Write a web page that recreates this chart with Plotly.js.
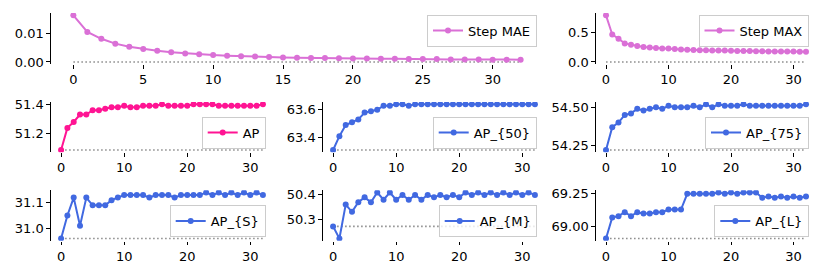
<!DOCTYPE html>
<html><head><meta charset="utf-8">
<script src="https://cdn.plot.ly/plotly-3.0.1.min.js"></script>
<style>html,body{margin:0;padding:0;background:#fff}#chart{width:830px;height:277px}</style>
</head><body><div id="chart"></div>
<script>
const steps = [0,1,2,3,4,5,6,7,8,9,10,11,12,13,14,15,16,17,18,19,20,21,22,23,24,25,26,27,28,29,30,31,32];
const stepMAE = [0.0163,0.0105,0.0081,0.0064,0.0053,0.0045,0.0039,0.0034,0.0030,0.0027,0.0024,0.0022,0.0020,0.0019,0.0017,0.0016,0.0015,0.0014,0.0014,0.0013,0.0012,0.0012,0.0011,0.0011,0.0010,0.0010,0.0010,0.0009,0.0009,0.0009,0.0008,0.0008,0.0008];
const stepMAX = [0.78,0.46,0.39,0.31,0.29,0.265,0.25,0.24,0.232,0.227,0.225,0.218,0.21,0.205,0.2,0.197,0.195,0.193,0.193,0.19,0.187,0.185,0.183,0.182,0.18,0.178,0.177,0.176,0.175,0.174,0.173,0.172,0.172];
const ap = [51.09,51.24,51.28,51.33,51.33,51.36,51.36,51.37,51.38,51.38,51.39,51.38,51.38,51.39,51.39,51.39,51.40,51.39,51.39,51.39,51.39,51.40,51.40,51.40,51.40,51.39,51.39,51.39,51.39,51.39,51.39,51.39,51.40];
const ap50 = [63.31,63.41,63.49,63.51,63.53,63.58,63.59,63.60,63.63,63.63,63.64,63.64,63.63,63.64,63.64,63.64,63.64,63.64,63.64,63.64,63.64,63.64,63.64,63.64,63.64,63.64,63.64,63.64,63.64,63.64,63.64,63.64,63.64];
const ap75 = [54.22,54.37,54.40,54.45,54.46,54.49,54.48,54.49,54.50,54.49,54.51,54.50,54.50,54.50,54.51,54.50,54.52,54.50,54.52,54.51,54.51,54.51,54.52,54.51,54.51,54.51,54.51,54.51,54.51,54.51,54.51,54.51,54.52];
const apS = [30.96,31.05,31.12,31.01,31.12,31.09,31.09,31.09,31.11,31.12,31.13,31.13,31.13,31.13,31.12,31.13,31.13,31.13,31.12,31.13,31.13,31.13,31.13,31.14,31.13,31.14,31.13,31.14,31.13,31.14,31.13,31.14,31.13];
const apM = [50.27,50.22,50.36,50.33,50.37,50.39,50.37,50.41,50.38,50.41,50.38,50.40,50.38,50.40,50.38,50.40,50.39,50.40,50.39,50.40,50.39,50.41,50.40,50.41,50.40,50.41,50.40,50.41,50.40,50.41,50.40,50.41,50.40];
const apL = [68.91,69.07,69.08,69.11,69.08,69.11,69.10,69.10,69.11,69.11,69.13,69.13,69.13,69.25,69.25,69.25,69.25,69.25,69.26,69.25,69.26,69.25,69.26,69.26,69.26,69.22,69.23,69.22,69.23,69.22,69.23,69.22,69.23];
const labels = ['Step MAE','Step MAX','AP','AP_{50}','AP_{75}','AP_{S}','AP_{M}','AP_{L}'];
const baselines = [0, 0, ap[0], ap50[0], ap75[0], apS[0], apM[0], apL[0]];

const series = [stepMAE, stepMAX, ap, ap50, ap75, apS, apM, apL];
const colors = ['#DA70D6','#DA70D6','#FF1493','#4169E1','#4169E1','#4169E1','#4169E1','#4169E1'];
const W = 830, H = 277;
const xDom = [[51,543],[596,816],[51,273],[323,545],[596,816],[51,273],[323,545],[596,816]];
const yDom = [[13,64.3],[13,64.3],[102,152.3],[102,152.3],[102,152.3],[190.2,240.8],[190.2,240.8],[190.2,240.8]];
const xDt = [5,10,10,10,10,10,10,10];
const yDt = [0.01,0.5,0.2,0.2,0.25,0.1,0.1,0.25];
const yFmt = ['.2f','.1f','.1f','.1f','.2f','.1f','.1f','.2f'];
const legTop = [true,true,false,false,false,false,false,false];
const legRight = [537,808.5,265.7,536.7,809,265.7,536.7,809.3];
const legEdge = [14.5,14.5,148.5,148.5,148.5,237,237,237];

const font = {family:'DejaVu Sans, sans-serif', size:13, color:'#000'};
const traces = [];
const layout = {width:W, height:H, margin:{l:0,r:0,t:0,b:0}, paper_bgcolor:'#fff', plot_bgcolor:'rgba(0,0,0,0)', font:font, showlegend:true};

series.forEach((ys, i) => {
  const n = i === 0 ? '' : String(i+1);
  const xa = 'x'+n, ya = 'y'+n, lg = 'legend'+n;
  traces.push({x:[steps[0], steps[steps.length-1]], y:[baselines[i], baselines[i]], xaxis:xa, yaxis:ya, mode:'lines',
    line:{color:'#909090', width:1.6, dash:'1.6px,2.4px'}, showlegend:false, hoverinfo:'skip'});
  traces.push({x:steps, y:ys, xaxis:xa, yaxis:ya, mode:'lines+markers', name:labels[i], legend:lg,
    line:{color:colors[i], width:2}, marker:{color:colors[i], size:6}});
  const lo = Math.min(baselines[i], ...ys), hi = Math.max(baselines[i], ...ys);
  const pad = (hi-lo)*0.05;
  layout['xaxis'+n] = {domain:[xDom[i][0]/W, xDom[i][1]/W], anchor:ya, range:[-1.6,33.6], dtick:xDt[i], tick0:0,
    showline:false, showgrid:false, zeroline:false, ticks:'outside', ticklen:3.5, tickwidth:1, tickcolor:'#000', tickfont:font};
  layout['yaxis'+n] = {domain:[1-yDom[i][1]/H, 1-yDom[i][0]/H], anchor:xa, range:[lo-pad, hi+pad], dtick:yDt[i], tick0:0,
    tickformat:yFmt[i], showline:true, linecolor:'#000', linewidth:1.2, showgrid:false, zeroline:false,
    ticks:'outside', ticklen:3.5, tickwidth:1, tickcolor:'#000', tickfont:font};
  layout[lg] = {x:legRight[i]/W, xanchor:'right', y:1-legEdge[i]/H, yanchor: legTop[i] ? 'top' : 'bottom',
    bgcolor:'rgba(255,255,255,0.8)', bordercolor:'#cccccc', borderwidth:1, font:font, itemwidth:30};
});

Plotly.newPlot('chart', traces, layout, {staticPlot:true});
</script></body></html>
